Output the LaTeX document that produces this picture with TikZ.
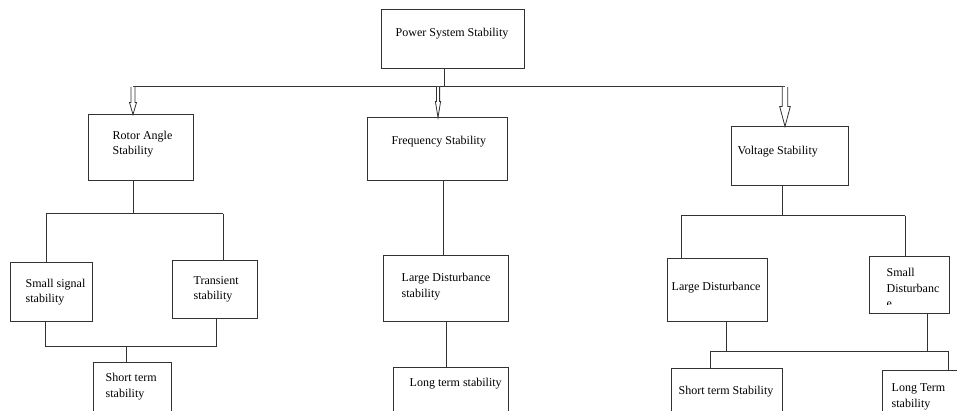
\documentclass[tikz,border=0pt]{standalone}
\usepackage{fontspec}
\setmainfont{Liberation Serif}
\usetikzlibrary{calc}
\definecolor{ln}{RGB}{50,50,50}
\tikzset{
  box/.style={draw=ln, line width=1pt, fill=white, inner sep=0pt},
  txt/.style={inner sep=0pt, anchor=base west, align=left, font=\fontsize{12}{15.5}\selectfont},
  conn/.style={draw=ln, line width=1pt},
  blockarrow/.style n args={3}{draw=ln, line width=0.8pt, fill=white, to path={
    let \p1=(\tikztostart), \p2=(\tikztotarget) in
    (\x1-#1pt,\y1) -- (\x1-#1pt,\y2+#3pt) -- (\x1-#2pt,\y2+#3pt) -- (\x1,\y2)
    -- (\x1+#2pt,\y2+#3pt) -- (\x1+#1pt,\y2+#3pt) -- (\x1+#1pt,\y1)}}
}
\begin{document}
\begin{tikzpicture}[x=1pt,y=-1pt]
\useasboundingbox (0,0) rectangle (957,411);
\clip (0,0) rectangle (957,411);
\fill[white] (0,0) rectangle (957,411);

% boxes
\node[box, minimum width=143, minimum height=59] (pss)   at (452.5,39.5) {};
\node[box, minimum width=105, minimum height=66] (rotor) at (140.5,148) {};
\node[box, minimum width=140, minimum height=63] (freq)  at (437,149.5) {};
\node[box, minimum width=117, minimum height=59] (volt)  at (789.5,156.5) {};
\node[box, minimum width=82,  minimum height=58] (small) at (51,292) {};
\node[box, minimum width=85,  minimum height=57] (trans) at (214.5,289.5) {};
\node[box, minimum width=78,  minimum height=68] (short) at (132,396) {};
\node[box, minimum width=125, minimum height=65] (ld)    at (445.5,288.5) {};
\node[box, minimum width=115, minimum height=63] (lt)    at (450.5,398.5) {};
\node[box, minimum width=100, minimum height=62] (vld)   at (717,290) {};
\node[box, minimum width=80,  minimum height=56] (sd)    at (909,285) {};
\node[box, minimum width=111, minimum height=62] (vst)   at (726.5,399) {};
\node[box, minimum width=98,  minimum height=60] (ltt)   at (931,400) {};

% texts (base = baseline of the last line)
\node[txt] (pssT)   at ([shift={(15,27)}]pss.north west) {Power System Stability};
\node[txt] (rotorT) at ([shift={(25,40.5)}]rotor.north west) {Rotor Angle\\Stability};
\node[txt] (freqT)  at ([shift={(25,27)}]freq.north west) {Frequency Stability};
\node[txt] (voltT)  at ([shift={(7,28)}]volt.north west) {Voltage Stability};
\node[txt] (smallT) at ([shift={(16,40)}]small.north west) {Small signal\\stability};
\node[txt] (transT) at ([shift={(22,39)}]trans.north west) {Transient\\stability};
\node[txt] (shortT) at ([shift={(13,35.5)}]short.north west) {Short term\\stability};
\node[txt] (ldT)    at ([shift={(19,41.5)}]ld.north west) {Large Disturbance\\stability};
\node[txt] (ltT)    at ([shift={(17,20)}]lt.north west) {Long term stability};
\node[txt] (vldT)   at ([shift={(5,32)}]vld.north west) {Large Disturbance};
\begin{scope}
\clip (sd.north west) rectangle ([yshift=9pt]sd.south east);
\node[txt] (sdT)    at ([shift={(18,51)}]sd.north west) {Small\\Disturbanc\\e};
\end{scope}
\node[txt] (vstT)   at ([shift={(8,27)}]vst.north west) {Short term Stability};
\node[txt] (lttT)   at ([shift={(10,37.5)}]ltt.north west) {Long Term\\stability};

% top level connectors
\coordinate (top) at (444,87);
\coordinate (hl) at (133,87);
\coordinate (hm) at (438,87);
\coordinate (hr) at (785,87);
\draw[conn] (pss.south -| top) -- (top);
\draw[conn] (hl) -- (hr);
\draw[blockarrow={2}{3.5}{12}] (hl) to (hl |- rotor.north);
\draw[blockarrow={1.6}{2.6}{16}] (hm) to (hm |- freq.north);
\draw[blockarrow={2.8}{5.3}{20}] (hr) to (hr |- volt.north);

% rotor angle branch
\coordinate (r1) at (133,214);
\coordinate (r2l) at (46,214);
\coordinate (r2r) at (223,214);
\draw[conn] (rotor.south -| r1) -- (r1);
\draw[conn] (r2l) -- (r2r);
\draw[conn] (r2l) -- (r2l |- small.north);
\draw[conn] (r2r) -- (r2r |- trans.north);
\coordinate (r3l) at (45,346);
\coordinate (r3r) at (216,346);
\coordinate (r3m) at (126,346);
\draw[conn] (small.south -| r3l) -- (r3l) -- (r3r) -- (trans.south -| r3r);
\draw[conn] (r3m) -- (r3m |- short.north);

% frequency branch
\coordinate (f1) at (443,200);
\coordinate (f2) at (446,340);
\draw[conn] (freq.south -| f1) -- (ld.north -| f1);
\draw[conn] (ld.south -| f2) -- (lt.north -| f2);

% voltage branch
\coordinate (v1) at (782,216);
\coordinate (v2l) at (681,216);
\coordinate (v2r) at (905,216);
\draw[conn] (volt.south -| v1) -- (v1);
\draw[conn] (v2l) -- (v2r);
\draw[conn] (v2l) -- (v2l |- vld.north);
\draw[conn] (v2r) -- (v2r |- sd.north);
\coordinate (v3a) at (726,351);
\coordinate (v3b) at (927,351);
\coordinate (v3l) at (710,351);
\coordinate (v3r) at (948,351);
\draw[conn] (vld.south -| v3a) -- (v3a);
\draw[conn] (sd.south -| v3b) -- (v3b);
\draw[conn] (v3l) -- (v3r);
\draw[conn] (v3l) -- (v3l |- vst.north);
\draw[conn] (v3r) -- (v3r |- ltt.north);
\end{tikzpicture}
\end{document}
